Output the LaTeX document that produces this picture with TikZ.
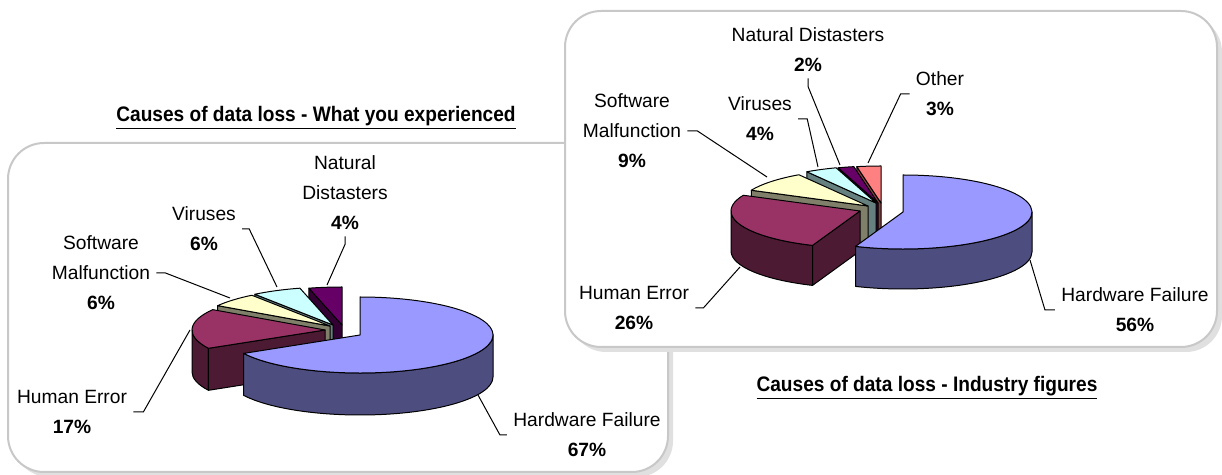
\documentclass[tikz,border=0pt]{standalone}
\usepackage{fontspec}
\setmainfont{Liberation Sans}
\newfontfamily\titlefont[FakeStretch=0.91]{Liberation Sans}
\usepackage{tikz}
\usetikzlibrary{calc}
\definecolor{dlhwtop}{HTML}{9999FF}
\definecolor{dlhwside}{HTML}{4D4D80}
\definecolor{dlhetop}{HTML}{993366}
\definecolor{dlheside}{HTML}{4D1A33}
\definecolor{dlswtop}{HTML}{FFFFCC}
\definecolor{dlswside}{HTML}{80806A}
\definecolor{dlvirtop}{HTML}{CCFFFF}
\definecolor{dlvirside}{HTML}{668080}
\definecolor{dlnattop}{HTML}{660066}
\definecolor{dlnatside}{HTML}{330033}
\definecolor{dlothtop}{HTML}{FF8080}
\definecolor{dlothside}{HTML}{804040}
\definecolor{dlframe}{HTML}{C8C8C8}

% pieces of a 3D pie slice, drawn round the slice's apex (local y up)
\newcommand{\slicetop}[3]{%
  \filldraw[slice,fill=#3] (0,0) -- ({\pieA*cos(#1)},{\pieB*sin(#1)})
    arc[start angle=#1,end angle=#2,x radius=\pieA,y radius=\pieB] -- cycle;}
\newcommand{\sliceface}[2]{%
  \filldraw[slice,fill=#2] (0,0) -- ({\pieA*cos(#1)},{\pieB*sin(#1)}) -- ++(0,-\pieH) -- (0,-\pieH) -- cycle;}
\newcommand{\slicewall}[3]{%
  \filldraw[slice,fill=#3] ({\pieA*cos(#1)},{\pieB*sin(#1)})
    arc[start angle=#1,end angle=#2,x radius=\pieA,y radius=\pieB] -- ++(0,-\pieH)
    arc[start angle=#2,end angle=#1,x radius=\pieA,y radius=\pieB] -- cycle;}

\begin{document}
\begin{tikzpicture}[x=0.5pt,y=-0.5pt,
    slice/.style={draw=black,line width=0.5pt,line join=round},
    lbl/.style={align=center,inner sep=3pt,font=\fontsize{9.6}{15}\selectfont},
    leader/.style={draw=black,line width=0.5pt},
    chartbox/.style={draw=dlframe,line width=1pt,fill=white,rounded corners=18pt},
    boxshadow/.style={fill=black!12,rounded corners=18pt},
    charttitle/.style={inner sep=0pt,font=\titlefont\fontsize{10.5}{12}\selectfont\bfseries}]
  \useasboundingbox (0,0) rectangle (1222,475);

  % chart areas
  \fill[boxshadow] (13,148) rectangle (673,477);
  \draw[chartbox] (8,143) rectangle (668,472);
  \fill[boxshadow] (570,16) rectangle (1222,352);
  \draw[chartbox] (565,11) rectangle (1217,347);

  \node[charttitle] (ltitle) at (316,118) {\underline{Causes of data loss - What you experienced}};
  \node[charttitle] (rtitle) at (927,388) {\underline{Causes of data loss - Industry figures}};

  % what you experienced
  \begin{scope}
    \def\pieA{133}\def\pieB{38}\def\pieH{42}
    \begin{scope}[shift={(342,325)},yscale=-1]
      \sliceface{104.4}{dlnatside}
      \slicetop{90}{104.4}{dlnattop}
    \end{scope}
    \begin{scope}[shift={(333,325)},yscale=-1]
      \sliceface{126}{dlvirside}
      \slicetop{104.4}{126}{dlvirtop}
    \end{scope}
    \begin{scope}[shift={(330,326)},yscale=-1]
      \sliceface{147.6}{dlswside}
      \slicetop{126}{147.6}{dlswtop}
    \end{scope}
    \begin{scope}[shift={(325,330)},yscale=-1]
      \slicewall{180}{208.8}{dlheside}
      \sliceface{208.8}{dlheside}
      \slicetop{147.6}{208.8}{dlhetop}
    \end{scope}
    \begin{scope}[shift={(360,335)},yscale=-1]
      \slicewall{-151}{0}{dlhwside}
      \slicetop{-151}{90}{dlhwtop}
    \end{scope}
  \end{scope}

  \node[lbl] (lnat) at (345,193) {Natural\\Distasters\\\textbf{4\%}};
  \node[lbl] (lvir) at (204,229) {Viruses\\\textbf{6\%}};
  \node[lbl] (lsw) at (101,273) {Software\\Malfunction\\\textbf{6\%}};
  \node[lbl] (lhe) at (72,412) {Human Error\\\textbf{17\%}};
  \node[lbl] (lhw) at (587,435) {Hardware Failure\\\textbf{67\%}};
  \coordinate (lnat-end) at (327,285);
  \coordinate (lvir-end) at (277,287);
  \coordinate (lsw-end) at (230,298);
  \coordinate (lhe-end) at (190,330);
  \coordinate (lhw-end) at (478,395);
  \draw[leader] (lnat.south) -- ++(0,8) -- (lnat-end);
  \draw[leader] (lvir.east) -- ++(7,0) -- (lvir-end);
  \draw[leader] (lsw.east) -- ++(9,0) -- (lsw-end);
  \draw[leader] (lhe.east) -- ++(10,0) -- (lhe-end);
  \draw[leader] (lhw.west) -- ++(-7,0) -- (lhw-end);

  % industry figures
  \begin{scope}
    \def\pieA{129}\def\pieB{37}\def\pieH{40}
    \begin{scope}[shift={(881,203)},yscale=-1]
      \sliceface{100.8}{dlothside}
      \slicetop{90}{100.8}{dlothtop}
    \end{scope}
    \begin{scope}[shift={(878,203)},yscale=-1]
      \sliceface{108}{dlnatside}
      \slicetop{100.8}{108}{dlnattop}
    \end{scope}
    \begin{scope}[shift={(876,203)},yscale=-1]
      \sliceface{122.4}{dlvirside}
      \slicetop{108}{122.4}{dlvirtop}
    \end{scope}
    \begin{scope}[shift={(868,206)},yscale=-1]
      \sliceface{154.8}{dlswside}
      \slicetop{122.4}{154.8}{dlswtop}
    \end{scope}
    \begin{scope}[shift={(860,211)},yscale=-1]
      \slicewall{180}{248.4}{dlheside}
      \sliceface{248.4}{dlheside}
      \slicetop{154.8}{248.4}{dlhetop}
    \end{scope}
    \begin{scope}[shift={(903,212)},yscale=-1]
      \slicewall{-111.6}{0}{dlhwside}
      \slicetop{-111.6}{90}{dlhwtop}
    \end{scope}
  \end{scope}

  \node[lbl] (rnat) at (808,50) {Natural Distasters\\\textbf{2\%}};
  \node[lbl] (rvir) at (760,119) {Viruses\\\textbf{4\%}};
  \node[lbl] (rsw) at (632,131) {Software\\Malfunction\\\textbf{9\%}};
  \node[lbl] (roth) at (940,94) {Other\\\textbf{3\%}};
  \node[lbl] (rhe) at (634,308) {Human Error\\\textbf{26\%}};
  \node[lbl] (rhw) at (1135,310) {Hardware Failure\\\textbf{56\%}};
  \coordinate (rnat-end) at (840,165);
  \coordinate (rvir-end) at (818,167);
  \coordinate (rsw-end) at (767,177);
  \coordinate (roth-end) at (868,163);
  \coordinate (rhe-end) at (740,267);
  \coordinate (rhw-end) at (1030,260);
  \draw[leader] (rnat.south) -- ++(0,8) -- (rnat-end);
  \draw[leader] (rvir.east) -- ++(9,0) -- (rvir-end);
  \draw[leader] (rsw.east) -- ++(10,0) -- (rsw-end);
  \draw[leader] (roth.west) -- ++(-9,0) -- (roth-end);
  \draw[leader] (rhe.east) -- ++(8,0) -- (rhe-end);
  \draw[leader] (rhw.west) -- ++(-10,0) -- (rhw-end);
\end{tikzpicture}
\end{document}
